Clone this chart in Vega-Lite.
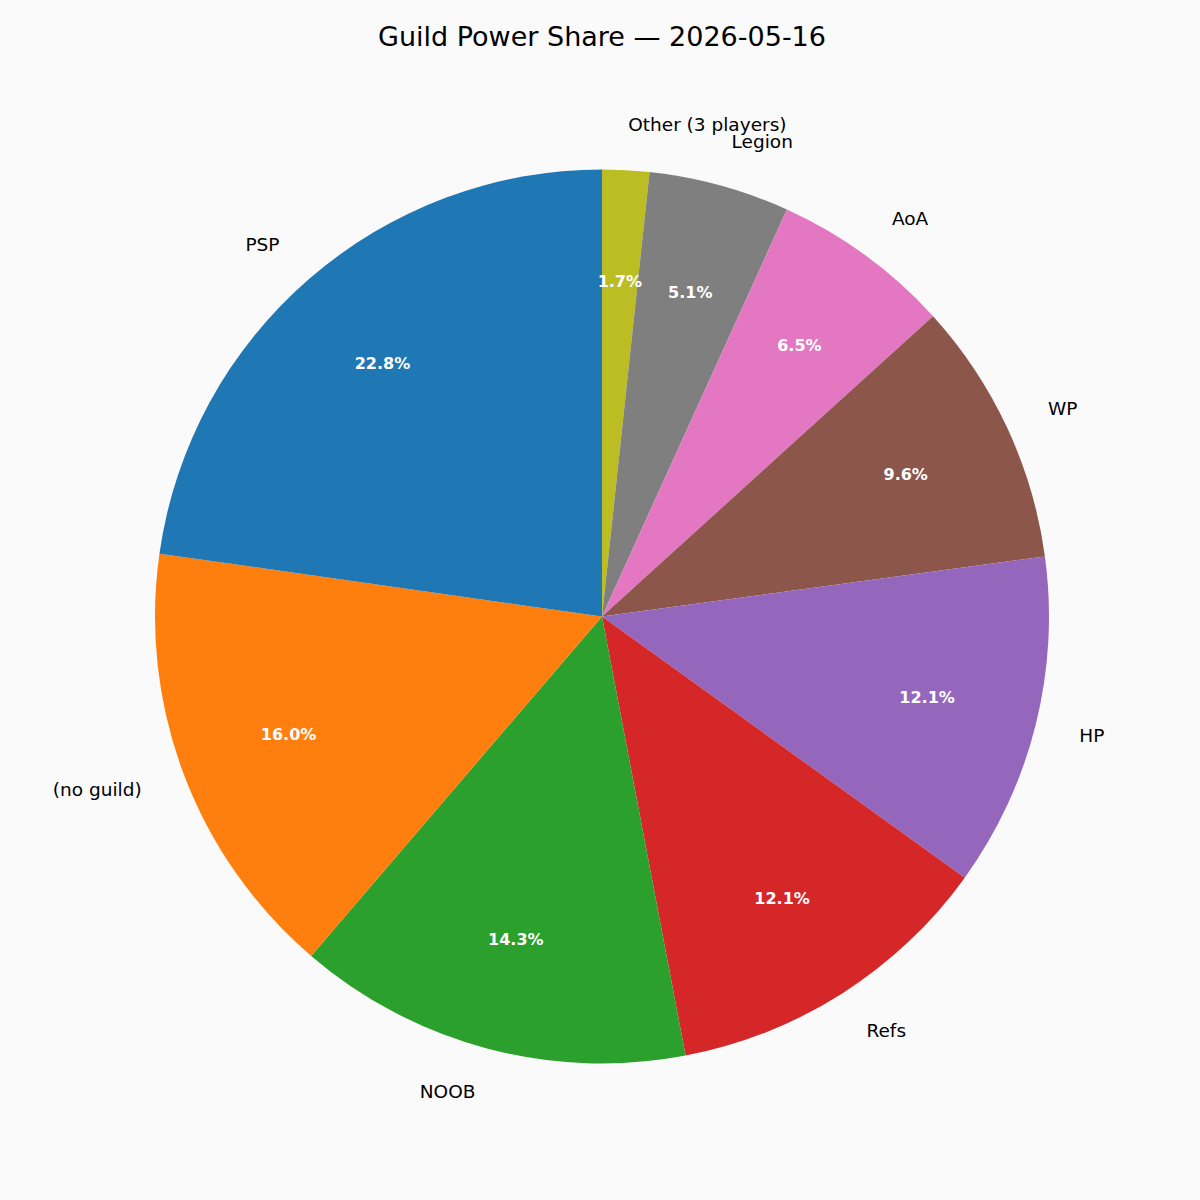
{
  "$schema": "https://vega.github.io/schema/vega-lite/v6.json",
  "title": {
    "text": "Guild Power Share — 2026-05-16",
    "font": "DejaVu Sans",
    "fontSize": 27,
    "fontWeight": "normal",
    "color": "#000000",
    "anchor": "middle",
    "baseline": "alphabetic",
    "offset": 7
  },
  "autosize": "none",
  "padding": {"left": 4, "top": 80, "right": 0, "bottom": 47},
  "width": 1196,
  "height": 1073,
  "background": "#fafafa",
  "data": {
    "values": [
      {"guild": "Other (3 players)", "share": 0.017},
      {"guild": "Legion", "share": 0.051},
      {"guild": "AoA", "share": 0.065},
      {"guild": "WP", "share": 0.096},
      {"guild": "HP", "share": 0.121},
      {"guild": "Refs", "share": 0.121},
      {"guild": "NOOB", "share": 0.143},
      {"guild": "(no guild)", "share": 0.160},
      {"guild": "PSP", "share": 0.228}
    ]
  },
  "transform": [
    {"window": [{"op": "row_number", "as": "idx"}]}
  ],
  "encoding": {
    "theta": {"field": "share", "type": "quantitative", "stack": true},
    "order": {"field": "idx", "type": "quantitative"}
  },
  "layer": [
    {
      "mark": {"type": "arc", "outerRadius": 447},
      "encoding": {
        "color": {
          "field": "guild",
          "type": "nominal",
          "legend": null,
          "scale": {
            "domain": ["PSP", "(no guild)", "NOOB", "Refs", "HP", "WP", "AoA", "Legion", "Other (3 players)"],
            "range": ["#1f77b4", "#ff7f0e", "#2ca02c", "#d62728", "#9467bd", "#8c564b", "#e377c2", "#7f7f7f", "#bcbd22"]
          }
        }
      }
    },
    {
      "mark": {"type": "text", "radius": 492, "align": "left", "baseline": "middle", "font": "DejaVu Sans", "fontSize": 18.5, "color": "#000000"},
      "encoding": {
        "text": {
          "condition": {"test": "indexof(['PSP', '(no guild)', 'NOOB'], datum.guild) < 0", "field": "guild"},
          "value": ""
        }
      }
    },
    {
      "mark": {"type": "text", "radius": 492, "align": "right", "baseline": "middle", "font": "DejaVu Sans", "fontSize": 18.5, "color": "#000000"},
      "encoding": {
        "text": {
          "condition": {"test": "indexof(['PSP', '(no guild)', 'NOOB'], datum.guild) >= 0", "field": "guild"},
          "value": ""
        }
      }
    },
    {
      "mark": {"type": "text", "radius": 335, "align": "center", "baseline": "middle", "font": "DejaVu Sans", "fontSize": 16, "fontWeight": "bold", "color": "#ffffff"},
      "encoding": {
        "text": {"field": "share", "type": "quantitative", "format": ".1%"}
      }
    }
  ],
  "config": {
    "view": {"stroke": null}
  }
}
